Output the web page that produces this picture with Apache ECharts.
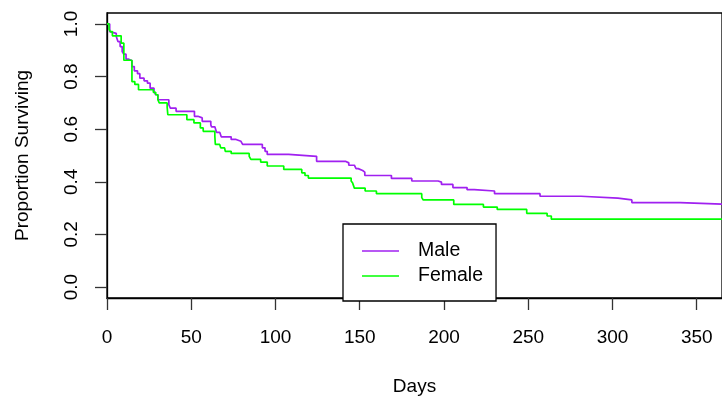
<!DOCTYPE html>
<html>
<head>
<meta charset="utf-8">
<script src="https://cdn.jsdelivr.net/npm/echarts@6/dist/echarts.min.js"></script>
<style>
  html, body { margin: 0; padding: 0; background: #fff; }
  #chart { width: 722px; height: 401px; }
</style>
</head>
<body>
<div id="chart"></div>
<script>
// survival curves (day of each drop, proportion after it)
const maleDays = [0, 1.6, 2.6, 5.5, 6.5, 7.8, 9.0, 10.0, 11.3, 12.9, 14.8, 16.2, 18.1, 19.5, 22.0, 24.0, 25.6, 27.9, 28.9, 30.2,
	36.7, 37.6, 41.0, 51.9, 54.0, 56.5, 61.6, 62.0, 64.0, 65.0, 66.9, 67.8, 73.7, 76.6, 79.5, 80.5, 92.2, 93.8, 95.1,
	107.8, 124.4, 141.5, 143.5, 146.8, 147.8, 149.1, 151.7, 153.0, 168.8, 180.9, 196.5, 198.5, 205.3, 213.7, 218.0,
	230.0, 257.0, 281.3, 303.2, 311.5, 340.2, 365];
const maleSurv = [1.0, 0.971, 0.964, 0.952, 0.933, 0.914, 0.895, 0.885, 0.866, 0.860, 0.838, 0.822, 0.811, 0.794, 0.784, 0.775, 0.756, 0.744, 0.731, 0.712,
	0.693, 0.680, 0.668, 0.649, 0.643, 0.630, 0.617, 0.609, 0.605, 0.588, 0.583, 0.571, 0.561, 0.554, 0.551, 0.542, 0.529, 0.516, 0.504,
	0.497, 0.478, 0.472, 0.463, 0.457, 0.450, 0.443, 0.437, 0.424, 0.413, 0.403, 0.399, 0.390, 0.378, 0.370, 0.365,
	0.355, 0.345, 0.338, 0.331, 0.321, 0.315, 0.315];

const femaleDays = [0, 1.2, 2.0, 3.2, 8.4, 10.0, 14.8, 16.5, 18.7, 27.5, 28.9, 30.2, 31.0, 35.7, 36.1, 47.4, 51.6, 55.4, 57.1,
	64.0, 64.3, 66.9, 67.5, 69.8, 70.2, 73.7, 84.4, 85.4, 91.2, 95.1, 104.9, 115.6, 117.5, 119.5, 144.9, 145.8, 146.8,
	153.2, 159.9, 186.8, 187.7, 205.8, 223.4, 231.6, 249.1, 261.2, 263.7, 365];
const femaleSurv = [1.0, 0.980, 0.971, 0.955, 0.927, 0.862, 0.781, 0.770, 0.750, 0.740, 0.731, 0.712, 0.700, 0.684, 0.655, 0.636, 0.624, 0.605, 0.592,
	0.573, 0.542, 0.535, 0.529, 0.523, 0.516, 0.508, 0.497, 0.485, 0.475, 0.460, 0.447, 0.434, 0.424, 0.414, 0.403, 0.395, 0.376,
	0.365, 0.355, 0.340, 0.331, 0.314, 0.304, 0.295, 0.280, 0.270, 0.258, 0.258];

const dayTicks = [0, 50, 100, 150, 200, 250, 300, 350];
const survTicks = [0, 0.2, 0.4, 0.6, 0.8, 1.0];

const font = '"Liberation Sans", Arial, sans-serif';
const toPairs = (xs, ys) => xs.map((x, i) => [x, ys[i]]);

const chart = echarts.init(document.getElementById('chart'), null, { renderer: 'canvas' });
chart.setOption({
	animation: false,
	backgroundColor: '#fff',
	textStyle: { fontFamily: font },
	grid: {
		left: 107,
		top: 13,
		right: -9,
		bottom: 102,
		show: true,
		borderColor: '#000',
		borderWidth: 1.3,
		backgroundColor: 'transparent'
	},
	legend: {
		orient: 'vertical',
		left: 343,
		top: 224,
		backgroundColor: '#fff',
		borderColor: '#000',
		borderWidth: 1.3,
		borderRadius: 0,
		padding: [17, 13, 15, 19],
		icon: 'rect',
		itemWidth: 37,
		itemHeight: 1.5,
		itemGap: 5,
		selectedMode: false,
		textStyle: {
			fontFamily: font,
			fontSize: 19.5,
			color: '#000',
			padding: [0, 0, 0, 14]
		},
		data: ['Male', 'Female']
	},
	xAxis: {
		type: 'value',
		min: 0,
		max: 365,
		interval: 50,
		name: 'Days',
		nameLocation: 'middle',
		nameGap: 79,
		nameTextStyle: { fontFamily: font, fontSize: 19, color: '#000' },
		axisLine: { show: true, onZero: false, lineStyle: { color: '#000', width: 1.3 } },
		axisTick: { show: true, length: 12, lineStyle: { color: '#333', width: 1.3 }, customValues: dayTicks },
		axisLabel: { margin: 30, fontSize: 19, color: '#000', fontFamily: font, customValues: dayTicks },
		splitLine: { show: false }
	},
	yAxis: {
		type: 'value',
		min: -0.0417,
		max: 1.0417,
		name: 'Proportion Surviving',
		nameLocation: 'middle',
		nameRotate: 90,
		nameGap: 75,
		nameTextStyle: { fontFamily: font, fontSize: 19, color: '#000' },
		axisLine: { show: true, onZero: false, lineStyle: { color: '#000', width: 1.3 } },
		axisTick: { show: true, length: 12, lineStyle: { color: '#333', width: 1.3 }, customValues: survTicks },
		axisLabel: {
			margin: 26,
			rotate: 90,
			fontSize: 19,
			color: '#000',
			fontFamily: font,
			customValues: survTicks,
			formatter: v => v.toFixed(1)
		},
		splitLine: { show: false }
	},
	series: [
		{
			name: 'Male',
			type: 'line',
			step: 'end',
			symbol: 'none',
			color: '#A020F0',
			lineStyle: { color: '#A020F0', width: 1.7 },
			data: toPairs(maleDays, maleSurv)
		},
		{
			name: 'Female',
			type: 'line',
			step: 'end',
			symbol: 'none',
			color: '#00FF00',
			lineStyle: { color: '#00FF00', width: 1.7 },
			data: toPairs(femaleDays, femaleSurv)
		}
	]
});
window.addEventListener('resize', () => chart.resize());
</script>
</body>
</html>
